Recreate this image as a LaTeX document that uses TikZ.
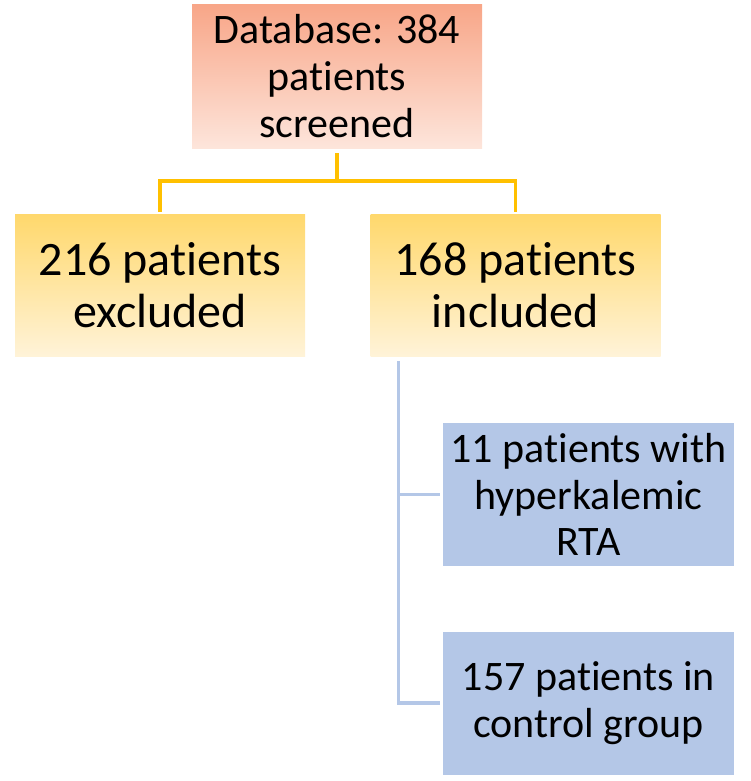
\documentclass[tikz,border=0pt]{standalone}
\usepackage{fontspec}
\setmainfont{Carlito}[Ligatures={NoCommon}]
\definecolor{salmonT}{RGB}{248,166,136}
\definecolor{salmonB}{RGB}{253,229,219}
\definecolor{yelT}{RGB}{255,216,108}
\definecolor{yelB}{RGB}{255,243,216}
\definecolor{blueF}{RGB}{180,199,231}
\definecolor{goldL}{RGB}{255,192,0}
\definecolor{blueL}{RGB}{180,199,231}
\begin{document}
\begin{tikzpicture}[x=1pt,y=-1pt,
  boxbase/.style={rectangle,inner sep=0pt,align=center,text=black},
  topbox/.style={boxbase,minimum width=290pt,minimum height=143pt,top color=salmonT,bottom color=salmonB,font=\fontsize{42}{47}\selectfont},
  yelbox/.style={boxbase,minimum width=290pt,minimum height=142pt,top color=yelT,bottom color=yelB,font=\fontsize{48}{52}\selectfont},
  bluebox/.style={boxbase,minimum width=291pt,minimum height=143pt,fill=blueF,font=\fontsize{42}{46.5}\selectfont},
  goldline/.style={draw=goldL,line width=3.2pt},
  blueline/.style={draw=blueL,line width=3.2pt}]
\useasboundingbox (0,0) rectangle (750,781);
\node[topbox] (top) at (337,76.5) {Database: 384\\patients\\screened};
\node[yelbox] (left) at (160,285) {216 patients\\excluded};
\node[yelbox] (right) at (515.5,285) {168 patients\\included};
\node[bluebox] (b1) at (588.5,494.5) {11 patients with\\hyperkalemic\\RTA};
\node[bluebox] (b2) at (588.5,703) {157 patients in\\control group};
\coordinate (bus) at (337,181);
\draw[goldline] ([yshift=-5pt]top.south) -- (bus);
\draw[goldline] ([yshift=2pt]left.north) |- (bus) -| ([yshift=2pt]right.north);
\coordinate (bv) at ([xshift=28pt,yshift=-5pt]right.south west);
\draw[blueline] (bv) |- ([xshift=-3pt]b1.west);
\draw[blueline] (bv) |- ([xshift=-3pt]b2.west);
\end{tikzpicture}
\end{document}
